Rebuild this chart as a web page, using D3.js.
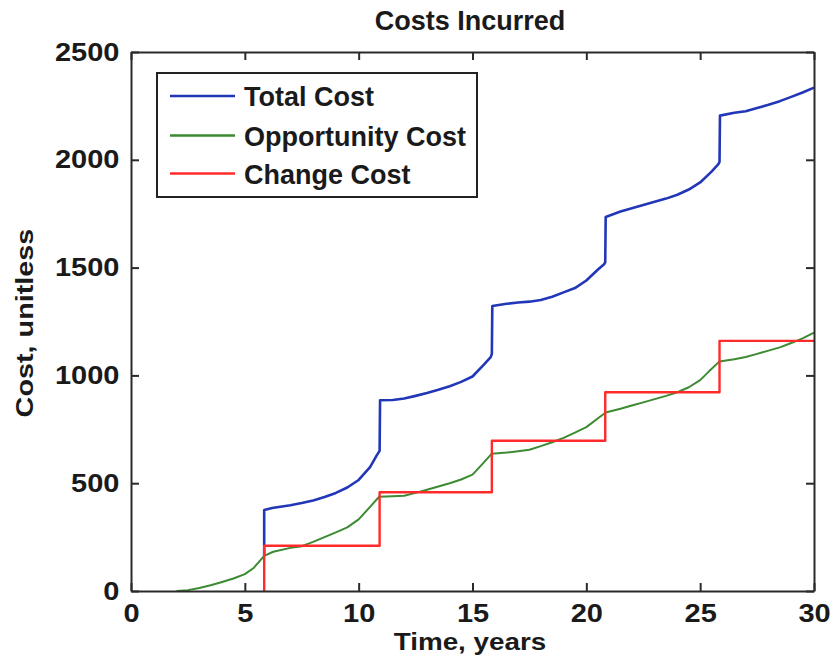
<!DOCTYPE html>
<html>
<head>
<meta charset="utf-8">
<script src="https://cdn.jsdelivr.net/npm/d3@7"></script>
<style>
  html, body { margin: 0; padding: 0; background: #fff; }
  svg { display: block; }
  text { font-family: "Liberation Sans", Arial, Helvetica, sans-serif; font-weight: bold; fill: #1a1a1a; }
</style>
</head>
<body>
<svg id="chart" width="835" height="664"></svg>
<script>
// Time axis ticks and cost axis ticks
const xTicks = [0, 5, 10, 15, 20, 25, 30];
const yTicks = [0, 500, 1000, 1500, 2000, 2500];

// Total cost (years, cost)
const totalYears = [5.85, 5.85, 6.2, 7.0, 7.5, 8.0, 8.5, 9.0, 9.5, 10.0, 10.5, 10.8, 10.92,
  10.94, 11.5, 12.0, 12.5, 13.0, 13.5, 14.0, 14.5, 15.0, 15.5, 15.8, 15.85,
  15.87, 16.5, 17.0, 17.5, 18.0, 18.5, 19.0, 19.5, 20.0, 20.5, 20.78, 20.83,
  20.85, 21.5, 22.0, 22.5, 23.0, 23.5, 24.0, 24.5, 25.0, 25.5, 25.8, 25.85,
  25.87, 26.5, 27.0, 27.5, 28.0, 28.5, 29.0, 29.5, 30.0];
const totalCost = [163, 376, 385, 398, 408, 420, 436, 455, 480, 515, 575, 630, 650,
  885, 886, 893, 905, 918, 933, 950, 970, 995, 1050, 1085, 1100,
  1322, 1332, 1338, 1342, 1350, 1365, 1385, 1405, 1440, 1490, 1515, 1525,
  1735, 1760, 1775, 1790, 1805, 1820, 1838, 1862, 1895, 1945, 1980, 1990,
  2205, 2218, 2225, 2240, 2255, 2272, 2292, 2312, 2335];

// Opportunity cost (years, cost)
const opportunityYears = [2.0, 2.5, 3.0, 3.5, 4.0, 4.5, 5.0, 5.4, 5.85, 6.25, 7.0, 7.5,
  8.0, 8.5, 9.0, 9.5, 10.0, 10.5, 10.9, 11.5, 12.0, 12.5, 13.0, 13.5, 14.0, 14.5,
  15.0, 15.4, 15.85, 16.5, 17.0, 17.5, 18.0, 18.5, 19.0, 19.5, 20.0, 20.5, 20.85,
  21.5, 22.0, 22.5, 23.0, 23.5, 24.0, 24.5, 25.0, 25.4, 25.85, 26.5, 27.0, 27.5,
  28.0, 28.5, 29.0, 29.5, 30.0];
const opportunityCost = [0, 4, 14, 27, 42, 58, 78, 108, 163, 182, 200, 208,
  228, 250, 272, 295, 332, 390, 437, 440, 442, 455, 470, 485, 500, 517,
  540, 585, 637, 642, 648, 655, 672, 690, 710, 735, 760, 800, 828,
  845, 860, 875, 890, 905, 922, 945, 978, 1020, 1065, 1075, 1085, 1100,
  1115, 1130, 1150, 1172, 1198];

// Change cost: a step at each change (years, cost)
const changeYears = [5.85, 5.85, 10.92, 10.92, 15.85, 15.85, 20.83, 20.83, 25.85, 25.85, 30.0];
const changeCost  = [0, 210, 210, 458, 458, 697, 697, 922, 922, 1160, 1160];

const seriesNames = ["Total Cost", "Opportunity Cost", "Change Cost"];
const seriesColors = ["#2236b8", "#3c8a32", "#ff2b2b"];

const svg = d3.select("#chart");
svg.append("rect").attr("width", 835).attr("height", 664).attr("fill", "#fff");

const x = d3.scaleLinear().domain([0, 30]).range([131, 814]);
const y = d3.scaleLinear().domain([0, 2500]).range([591, 52]);

const line = d3.line().x(d => x(d[0])).y(d => y(d[1]));
const zip = (a, b) => a.map((v, i) => [v, b[i]]);

const plot = svg.append("g");
const series = [
  zip(totalYears, totalCost),
  zip(opportunityYears, opportunityCost),
  zip(changeYears, changeCost)
];
const widths = [2.6, 2.0, 2.4];
series.forEach((pts, i) => {
  plot.append("path")
    .datum(pts)
    .attr("fill", "none")
    .attr("stroke", seriesColors[i])
    .attr("stroke-width", widths[i])
    .attr("stroke-linejoin", "round")
    .attr("d", line);
});

// Boxed axes with inward ticks on all four sides
const axisColor = "#2a2a2a";
const stretch = 1.16;
const fmt = d3.format("d");
function styleAxis(g) {
  g.select(".domain").attr("stroke", axisColor).attr("stroke-width", 2);
  g.selectAll(".tick line").attr("stroke", axisColor).attr("stroke-width", 2);
  g.selectAll(".tick text")
    .attr("font-size", 25)
    .attr("font-family", "Liberation Sans, Arial, sans-serif")
    .attr("font-weight", "bold")
    .attr("fill", "#1a1a1a");
}

const gx = svg.append("g").attr("transform", `translate(0,${y(0)})`)
  .call(d3.axisBottom(x).tickValues(xTicks).tickFormat(fmt).tickSizeInner(-8).tickSizeOuter(0).tickPadding(13));
styleAxis(gx);
gx.selectAll(".tick text").attr("transform", `scale(${stretch},1)`);

const gy = svg.append("g").attr("transform", `translate(${x(0)},0)`)
  .call(d3.axisLeft(y).tickValues(yTicks).tickFormat(fmt).tickSizeInner(-8).tickSizeOuter(0).tickPadding(10));
styleAxis(gy);
gy.selectAll(".tick text").attr("transform", `scale(${stretch},1)`);

const gt = svg.append("g").attr("transform", `translate(0,${y(2500)})`)
  .call(d3.axisTop(x).tickValues(xTicks).tickSizeInner(-8).tickSizeOuter(0).tickFormat(""));
styleAxis(gt);

const gr = svg.append("g").attr("transform", `translate(${x(30)},0)`)
  .call(d3.axisRight(y).tickValues(yTicks).tickSizeInner(-8).tickSizeOuter(0).tickFormat(""));
styleAxis(gr);

// Title and axis labels
svg.append("text")
  .attr("transform", `translate(470,30)`)
  .attr("text-anchor", "middle")
  .attr("font-size", 27)
  .text("Costs Incurred");

svg.append("text")
  .attr("transform", `translate(470,650) scale(${stretch},1)`)
  .attr("text-anchor", "middle")
  .attr("font-size", 24)
  .text("Time, years");

svg.append("text")
  .attr("transform", `translate(33,323) rotate(-90) scale(1.2,1)`)
  .attr("text-anchor", "middle")
  .attr("font-size", 24)
  .text("Cost, unitless");

// Legend
const legend = svg.append("g");
legend.append("rect")
  .attr("x", 157).attr("y", 73).attr("width", 320).attr("height", 124)
  .attr("fill", "#fff").attr("stroke", "#222").attr("stroke-width", 2);
const rowY = [96, 135.5, 173.5];
seriesNames.forEach((name, i) => {
  legend.append("line")
    .attr("x1", 170).attr("x2", 235)
    .attr("y1", rowY[i]).attr("y2", rowY[i])
    .attr("stroke", seriesColors[i]).attr("stroke-width", 2.4);
  legend.append("text")
    .attr("x", 244).attr("y", rowY[i] + 10)
    .attr("font-size", 27)
    .text(name);
});
</script>
</body>
</html>
